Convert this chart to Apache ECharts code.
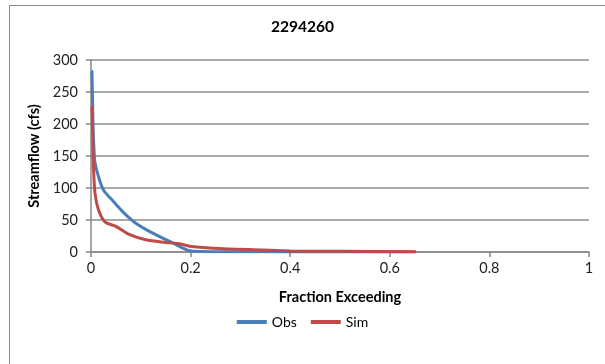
<!DOCTYPE html>
<html><head><meta charset="utf-8">
<script src="https://cdn.jsdelivr.net/npm/echarts@6/dist/echarts.min.js"></script>
<style>html,body{margin:0;padding:0;background:#fff}#c{width:605px;height:364px}</style>
</head><body><div id="c"></div>
<script>
const title = "2294260";
const xTicks = [0, 0.2, 0.4, 0.6, 0.8, 1];
const yTicks = [0, 50, 100, 150, 200, 250, 300];
const obsX = [0.001, 0.002, 0.004, 0.006, 0.008, 0.015, 0.025, 0.045, 0.065, 0.09, 0.125, 0.165, 0.198, 0.22, 0.3, 0.65];
const obsY = [283, 282, 200, 160, 140, 118, 97, 79, 62, 45, 29, 14, 2, 0.8, 0.3, 0];
const simX = [0.001, 0.002, 0.003, 0.004, 0.005, 0.008, 0.015, 0.028, 0.05, 0.078, 0.11, 0.15, 0.178, 0.198, 0.245, 0.345, 0.4, 0.5, 0.653];
const simY = [228, 227, 200, 160, 133, 92, 66, 47, 40, 27, 19, 15, 13, 9, 6, 3, 1.5, 1, 0.5];

const chart = echarts.init(document.getElementById('c'));
const font = 'Lato, "Open Sans", sans-serif';
chart.setOption({
  animation: false,
  backgroundColor: '#fff',
  textStyle: {fontFamily: font},
  title: {text: title, left: 'center', top: 14, textStyle: {fontSize: 15.5, fontWeight: 'bold', color: '#000', fontFamily: font}},
  graphic: [{type: 'rect', left: 7, top: 3, shape: {width: 620, height: 359}, style: {fill: 'none', stroke: '#8a8a8a', lineWidth: 1}, silent: true}],
  legend: {
    data: ['Obs', 'Sim'], top: 310, left: 'center', icon: 'rect', itemWidth: 30, itemHeight: 4, itemGap: 14,
    textStyle: {fontSize: 14, color: '#000', fontFamily: font}
  },
  grid: {left: 91, right: 16, top: 60, bottom: 112},
  xAxis: {
    type: 'value', min: 0, max: 1, interval: 0.2,
    name: 'Fraction Exceeding', nameLocation: 'middle', nameGap: 38,
    nameTextStyle: {fontSize: 14.5, fontWeight: 'bold', color: '#000', fontFamily: font},
    axisLine: {show: true, lineStyle: {color: '#888', width: 1.5}},
    axisTick: {show: true, length: 5, lineStyle: {color: '#888', width: 1.5}},
    axisLabel: {fontSize: 14.5, color: '#222', margin: 9, formatter: v => String(Math.round(v * 10) / 10)},
    splitLine: {show: false}
  },
  yAxis: {
    type: 'value', min: 0, max: 300, interval: 50,
    name: 'Streamflow (cfs)', nameLocation: 'middle', nameGap: 44, nameRotate: 90,
    nameTextStyle: {fontSize: 14.5, fontWeight: 'bold', color: '#000', fontFamily: font},
    axisLine: {show: true, lineStyle: {color: '#888', width: 1.5}},
    axisTick: {show: true, length: 5, lineStyle: {color: '#888', width: 1.5}},
    axisLabel: {fontSize: 14.5, color: '#222', margin: 13},
    splitLine: {show: true, lineStyle: {color: '#8c8c8c', width: 1.5}}
  },
  series: [
    {name: 'Obs', type: 'line', showSymbol: false, symbol: 'none', color: '#4a7ebb', lineStyle: {width: 3, color: '#4a7ebb'}, smooth: 0.3,
     data: obsX.map((x, i) => [x, obsY[i]])},
    {name: 'Sim', type: 'line', showSymbol: false, symbol: 'none', color: '#be4b48', lineStyle: {width: 3, color: '#be4b48'}, smooth: 0.3,
     data: simX.map((x, i) => [x, simY[i]])}
  ]
});
</script></body></html>
